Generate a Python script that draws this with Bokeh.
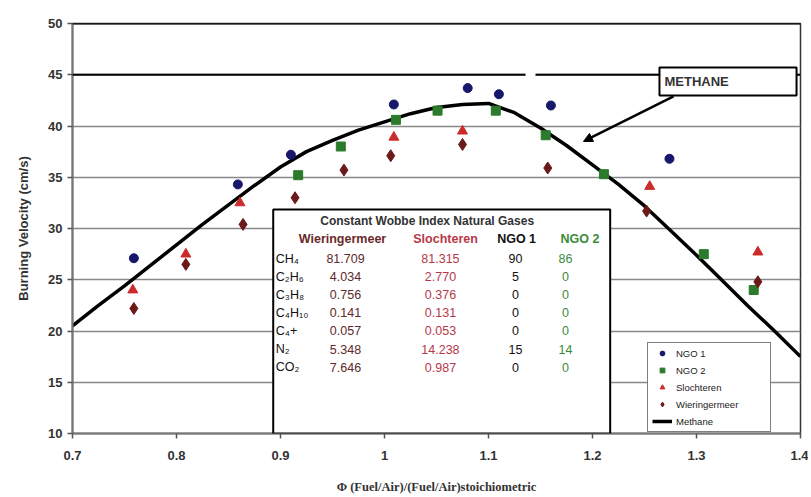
from bokeh.plotting import figure
from bokeh.models import (Range1d, FixedTicker, Span, BoxAnnotation, Label, Arrow,
                          NormalHead, ColumnDataSource, Legend, LegendItem)
from bokeh.core.properties import value
from bokeh.embed import file_html
from bokeh.resources import INLINE

# ---------------- data ----------------
phi_ngo1 = [0.759, 0.859, 0.910, 1.009, 1.080, 1.110, 1.160, 1.274]
v_ngo1 = [27.1, 34.3, 37.2, 42.1, 43.7, 43.1, 42.0, 36.8]

phi_ngo2 = [0.917, 0.958, 1.011, 1.051, 1.107, 1.155, 1.211, 1.307, 1.355]
v_ngo2 = [35.2, 38.0, 40.6, 41.5, 41.5, 39.1, 35.3, 27.5, 24.0]

phi_sloch = [0.758, 0.809, 0.861, 1.009, 1.075, 1.255, 1.359]
v_sloch = [24.0, 27.5, 32.5, 38.9, 39.5, 34.1, 27.7]

phi_wier = [0.759, 0.809, 0.864, 0.914, 0.961, 1.006, 1.075, 1.157, 1.252, 1.359]
v_wier = [22.2, 26.5, 30.4, 33.0, 35.7, 37.1, 38.2, 35.9, 31.7, 24.8]

phi_methane = [0.700, 0.725, 0.750, 0.775, 0.800, 0.825, 0.850, 0.875, 0.900, 0.925,
               0.950, 0.975, 1.000, 1.025, 1.050, 1.075, 1.100, 1.125, 1.150, 1.175,
               1.200, 1.225, 1.250, 1.275, 1.300, 1.325, 1.350, 1.375, 1.400]
v_methane = [20.5, 22.5, 24.4, 26.4, 28.4, 30.4, 32.3, 34.2, 36.0, 37.5,
             38.6, 39.6, 40.4, 41.2, 41.8, 42.1, 42.2, 41.3, 39.8, 38.1,
             36.2, 34.3, 32.2, 29.8, 27.4, 24.9, 22.4, 20.0, 17.5]

x_ticks = [0.7, 0.8, 0.9, 1, 1.1, 1.2, 1.3, 1.4]
y_ticks = [10, 15, 20, 25, 30, 35, 40, 45, 50]

table_title = "Constant Wobbe Index Natural Gases"
table_headers = ["Wieringermeer", "Slochteren", "NGO 1", "NGO 2"]
table_rows = ["CH₄", "C₂H₆", "C₃H₈", "C₄H₁₀", "C₄+", "N₂", "CO₂"]
col_wier = ["81.709", "4.034", "0.756", "0.141", "0.057", "5.348", "7.646"]
col_sloch = ["81.315", "2.770", "0.376", "0.131", "0.053", "14.238", "0.987"]
col_ngo1 = ["90", "5", "0", "0", "0", "15", "0"]
col_ngo2 = ["86", "0", "0", "0", "0", "14", "0"]

# ---------------- styles ----------------
C_NGO1 = "#17176b"
C_NGO2 = "#2c7a2c"
C_SLOCH = "#cc2b2b"
C_WIER = "#6b1a1a"
C_TXT = "#333333"
FONT = "Liberation Sans"

p = figure(width=808, height=497, output_backend="svg", toolbar_location=None,
           x_range=Range1d(0.7, 1.4), y_range=Range1d(10, 50),
           min_border_left=72, min_border_right=8, min_border_top=23,
           min_border_bottom=64, background_fill_color="white")

p.outline_line_color = "#333333"
p.outline_line_width = 1.5
p.xgrid.visible = False
p.ygrid.grid_line_color = "#888888"
p.ygrid.grid_line_width = 1.5
p.ygrid.ticker = FixedTicker(ticks=y_ticks)

p.xaxis.ticker = FixedTicker(ticks=x_ticks)
p.xaxis.major_label_overrides = {1: "1"}
p.yaxis.ticker = FixedTicker(ticks=y_ticks)
for ax in (p.xaxis, p.yaxis):
    ax.minor_tick_line_color = None
    ax.major_tick_in = 0
    ax.major_tick_out = 5
    ax.major_tick_line_color = "#555555"
    ax.major_tick_line_width = 1.5
    ax.axis_line_color = "#777777"
    ax.axis_line_width = 2
    ax.major_label_text_font = FONT
    ax.major_label_text_font_style = "bold"
    ax.major_label_text_font_size = "13px"
    ax.major_label_text_color = C_TXT
    ax.axis_label_text_font_style = "bold"
    ax.axis_label_text_color = C_TXT
p.xaxis.major_label_standoff = 12
p.yaxis.major_label_standoff = 5
p.xaxis.axis_label = "Φ (Fuel/Air)/(Fuel/Air)stoichiometric"
p.xaxis.axis_label_text_font = "Liberation Serif"
p.xaxis.axis_label_text_font_size = "12.5px"
p.xaxis.axis_label_standoff = 17
p.yaxis.axis_label = "Burning Velocity (cm/s)"
p.yaxis.axis_label_text_font = FONT
p.yaxis.axis_label_text_font_size = "13px"
p.yaxis.axis_label_standoff = 14

# top black lines (boxed region)
p.add_layout(Span(location=45, dimension="width", line_color="black", line_width=2))
p.add_layout(Span(location=50, dimension="width", line_color="black", line_width=2))
p.add_layout(BoxAnnotation(left=1.1356, right=1.1452, bottom=44.5, top=45.5,
                           fill_color="white", fill_alpha=1, line_alpha=0))

# data
r_m = p.line(phi_methane, v_methane, line_color="black", line_width=3.5)
r1 = p.scatter(phi_ngo1, v_ngo1, marker="circle", size=9, fill_color=C_NGO1, line_color=C_NGO1)
r2 = p.scatter(phi_ngo2, v_ngo2, marker="square", size=9, fill_color=C_NGO2, line_color=C_NGO2)
r3 = p.scatter(phi_sloch, v_sloch, marker="triangle", size=10, fill_color=C_SLOCH, line_color=C_SLOCH)
r4 = p.scatter(phi_wier, v_wier, marker="diamond", size=12, fill_color=C_WIER, line_color=C_WIER)

# METHANE callout
p.add_layout(BoxAnnotation(left=1.2644, right=1.3962, bottom=42.98, top=45.71,
                           fill_color="white", fill_alpha=1,
                           line_color="black", line_alpha=1, line_width=2))
p.add_layout(Label(x=1.2692, y=44.34, text="METHANE", text_font=FONT,
                   text_font_style="bold", text_font_size="13px", text_color=C_TXT,
                   text_baseline="middle"))
p.add_layout(Arrow(end=NormalHead(size=9, fill_color="black", line_color="black"),
                   x_start=1.2779, y_start=42.88, x_end=1.1913, y_end=38.49,
                   line_color="black", line_width=2.5))

# table box
p.add_layout(BoxAnnotation(left=0.893, right=1.217, bottom=10, top=31.85,
                           fill_color="white", fill_alpha=1,
                           line_color="black", line_alpha=1, line_width=2))

row_top = 27.07
row_step = 1.766
row_y = [row_top - i * row_step for i in range(len(table_rows))]

def col_text(xc, texts, color, align="center"):
    src = ColumnDataSource(dict(x=[xc] * len(texts), y=row_y, t=texts))
    r = p.text(x="x", y="y", text="t", source=src, text_color=color,
               text_font=value(FONT), text_font_size=value("12.5px"),
               text_align=align, text_baseline="middle")
    r.level = "overlay"

col_text(0.8955, table_rows, "#111111", align="left")
col_text(0.9625, col_wier, "#5e2a2a")
col_text(1.0538, col_sloch, "#b8384a")
col_text(1.126, col_ngo1, "#111111")
col_text(1.174, col_ngo2, "#3d8a3d")

p.add_layout(Label(x=1.041, y=30.78, text=table_title, text_font=FONT,
                   text_font_style="bold", text_font_size="12px", text_color=C_TXT,
                   text_align="center", text_baseline="middle"))
hdr_x = [0.9596, 1.0587, 1.127, 1.188]
hdr_c = ["#6a2a2a", "#b8384a", "#111111", "#3d8a3d"]
for hx, ht, hc in zip(hdr_x, table_headers, hdr_c):
    p.add_layout(Label(x=hx, y=28.93, text=ht, text_font=FONT,
                       text_font_style="bold", text_font_size="12.5px", text_color=hc,
                       text_align="center", text_baseline="middle"))

legend = Legend(items=[
    LegendItem(label="NGO 1", renderers=[r1]),
    LegendItem(label="NGO 2", renderers=[r2]),
    LegendItem(label="Slochteren", renderers=[r3]),
    LegendItem(label="Wieringermeer", renderers=[r4]),
    LegendItem(label="Methane", renderers=[r_m]),
], location=(575, 1))
legend.label_text_font = FONT
legend.label_text_font_size = "9.5px"
legend.label_text_color = "#222222"
legend.label_height = 12
legend.glyph_height = 12
legend.glyph_width = 20
legend.label_width = 90
legend.spacing = 5
legend.padding = 4
legend.margin = 0
legend.label_standoff = 4
legend.border_line_color = "black"
legend.border_line_width = 1
legend.background_fill_alpha = 1
p.add_layout(legend)

open("out.html", "w").write(file_html(p, INLINE))
